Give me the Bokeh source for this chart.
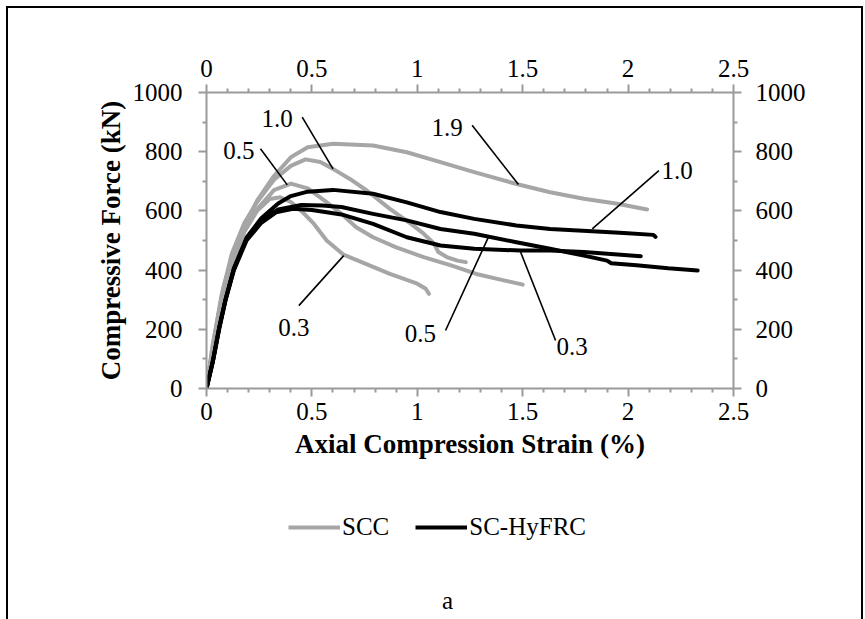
from bokeh.plotting import figure
from bokeh.layouts import column
from bokeh.models import (LinearAxis, Range1d, Legend, LegendItem, Label,
                          FixedTicker)
from bokeh.core.properties import value
from bokeh.embed import file_html
from bokeh.resources import INLINE

# ---------------- data ----------------
x_ticks = [0, 0.5, 1.0, 1.5, 2.0, 2.5]
x_tick_labels = ["0", "0.5", "1", "1.5", "2", "2.5"]
x_minor = [0.1, 0.2, 0.3, 0.4, 0.6, 0.7, 0.8, 0.9, 1.1, 1.2, 1.3, 1.4,
           1.6, 1.7, 1.8, 1.9, 2.1, 2.2, 2.3, 2.4]
y_ticks = [0, 200, 400, 600, 800, 1000]
y_minor = [100, 300, 500, 700, 900]

# SCC (gray)
scc_03_strain = [0, 0.03, 0.07, 0.12, 0.18, 0.24, 0.30, 0.35, 0.40, 0.45, 0.51,
                 0.57, 0.65, 0.75, 0.87, 1.00, 1.04, 1.055]
scc_03_force = [0, 130, 280, 420, 530, 600, 640, 646, 630, 600, 556,
                500, 452, 423, 387, 354, 337, 320]

scc_05_strain = [0, 0.03, 0.07, 0.12, 0.18, 0.24, 0.32, 0.40, 0.48, 0.56, 0.64,
                 0.71, 0.79, 0.90, 1.03, 1.16, 1.28, 1.40, 1.50]
scc_05_force = [0, 140, 300, 440, 540, 605, 670, 692, 676, 635, 590,
                545, 511, 477, 444, 416, 387, 367, 351]

scc_10_strain = [0, 0.03, 0.07, 0.12, 0.18, 0.24, 0.32, 0.40, 0.47, 0.54, 0.60,
                 0.68, 0.76, 0.87, 0.97, 1.03, 1.08, 1.10, 1.14, 1.19, 1.23]
scc_10_force = [0, 145, 310, 455, 560, 630, 705, 752, 774, 765, 742,
                708, 669, 607, 556, 523, 489, 461, 444, 432, 427]

scc_19_strain = [0, 0.03, 0.08, 0.12, 0.16, 0.24, 0.32, 0.40, 0.48, 0.60, 0.79,
                 0.95, 1.11, 1.27, 1.48, 1.63, 1.79, 1.95, 2.09]
scc_19_force = [0, 150, 340, 440, 520, 635, 718, 781, 815, 827, 821,
                798, 765, 731, 689, 663, 641, 624, 605]

# SC-HyFRC (black)
hy_03_strain = [0, 0.03, 0.06, 0.09, 0.13, 0.19, 0.26, 0.33, 0.41, 0.50, 0.64,
                0.79, 0.95, 1.11, 1.27, 1.49, 1.63, 1.79, 1.95, 2.06]
hy_03_force = [0, 90, 200, 297, 400, 500, 560, 595, 607, 603, 588,
               556, 511, 483, 472, 466, 466, 461, 453, 447]

hy_05_strain = [0, 0.03, 0.06, 0.09, 0.13, 0.19, 0.26, 0.34, 0.45, 0.55, 0.64,
                0.79, 0.95, 1.11, 1.27, 1.47, 1.63, 1.79, 1.90, 1.92, 2.04,
                2.19, 2.33]
hy_05_force = [0, 92, 205, 300, 405, 505, 568, 605, 620, 618, 613,
               590, 568, 539, 523, 494, 472, 449, 432, 423, 416, 406, 399]

hy_10_strain = [0, 0.03, 0.06, 0.09, 0.13, 0.19, 0.26, 0.34, 0.40, 0.48, 0.60,
                0.79, 0.95, 1.11, 1.27, 1.47, 1.63, 1.83, 1.98, 2.12, 2.13]
hy_10_force = [0, 92, 205, 300, 405, 510, 575, 625, 650, 665, 671,
               658, 629, 596, 573, 551, 539, 531, 525, 519, 512]

# annotation labels
ann_text = ["1.0", "0.5", "1.9", "0.3", "1.0", "0.5", "0.3"]
ann_x = [0.335, 0.153, 1.142, 0.414, 2.233, 1.015, 1.735]
ann_y = [911, 804, 883, 205, 736, 185, 142]
lead_x0 = [0.454, 0.256, 1.26, 0.438, 2.146, 1.134, 1.656]
lead_y0 = [917, 810, 889, 280, 736, 196, 162]
lead_x1 = [0.60, 0.383, 1.48, 0.651, 1.83, 1.339, 1.49]
lead_y1 = [742, 688, 689, 449, 539, 514, 461]

series_names = ["SCC", "SC-HyFRC"]
caption = "a"

# ---------------- figure ----------------
FONT = "Liberation Serif"
GRAY = "#a6a6a6"
AXIS_GRAY = "#9a9a9a"
FS = "25px"
TFS = "27px"

W = 853
H1 = 480
H2 = 131
FRAME_W = 527

p = figure(width=W, height=H1, output_backend="svg", toolbar_location=None,
           x_range=Range1d(0, 2.5), y_range=Range1d(0, 1000),
           x_axis_location=None, y_axis_location=None,
           min_border_left=198, min_border_right=128,
           min_border_top=84, min_border_bottom=100)
p.grid.visible = False
p.outline_line_color = None
p.background_fill_color = "white"
p.border_fill_color = "white"


def style_axis(ax, ticks, minor, overrides=None):
    ax.ticker = FixedTicker(ticks=ticks, minor_ticks=minor)
    ax.axis_line_color = AXIS_GRAY
    ax.axis_line_width = 2
    ax.major_tick_line_color = AXIS_GRAY
    ax.minor_tick_line_color = AXIS_GRAY
    ax.major_tick_line_width = 2
    ax.minor_tick_line_width = 2
    ax.major_tick_out = 8
    ax.major_tick_in = 0
    ax.minor_tick_out = 4
    ax.minor_tick_in = 0
    ax.major_label_text_font = FONT
    ax.major_label_text_font_size = FS
    ax.major_label_text_color = "black"
    ax.axis_label_text_font = FONT
    ax.axis_label_text_font_size = TFS
    ax.axis_label_text_font_style = "bold"
    ax.axis_label_text_color = "black"
    if overrides:
        ax.major_label_overrides = overrides


xo = {float(t): s for t, s in zip(x_ticks, x_tick_labels)}

ax_b = LinearAxis(axis_label="Axial Compression Strain (%)")
style_axis(ax_b, x_ticks, x_minor, xo)
ax_b.major_label_standoff = 6
ax_b.axis_label_standoff = 6
p.add_layout(ax_b, "below")

ax_t = LinearAxis()
style_axis(ax_t, x_ticks, x_minor, xo)
ax_t.major_label_standoff = 8
p.add_layout(ax_t, "above")

ax_l = LinearAxis(axis_label="Compressive Force (kN)")
style_axis(ax_l, y_ticks, y_minor)
ax_l.major_label_standoff = 16
ax_l.axis_label_standoff = 4
p.add_layout(ax_l, "left")

ax_r = LinearAxis()
style_axis(ax_r, y_ticks, y_minor)
ax_r.major_label_standoff = 14
p.add_layout(ax_r, "right")

# curves
for xs, ys in [(scc_03_strain, scc_03_force), (scc_05_strain, scc_05_force),
               (scc_10_strain, scc_10_force), (scc_19_strain, scc_19_force)]:
    p.line(xs, ys, line_color=GRAY, line_width=4, line_join="round",
           line_cap="round")

for xs, ys in [(hy_03_strain, hy_03_force), (hy_05_strain, hy_05_force),
               (hy_10_strain, hy_10_force)]:
    p.line(xs, ys, line_color="black", line_width=4, line_join="round",
           line_cap="round")

# leader lines + labels
p.segment(x0=lead_x0, y0=lead_y0, x1=lead_x1, y1=lead_y1,
          line_color="black", line_width=1.6)
p.text(x=ann_x, y=ann_y, text=ann_text, text_font=value(FONT),
       text_font_size=FS, text_align="center", text_baseline="middle",
       text_color="black")

# ---------------- legend + caption strip ----------------
# (column aligns this strip's frame with the chart frame above)
q = figure(width=W, height=H2, output_backend="svg", toolbar_location=None,
           x_range=Range1d(0, FRAME_W), y_range=Range1d(0, H2),
           x_axis_location=None, y_axis_location=None,
           min_border_left=198, min_border_right=128,
           min_border_top=0, min_border_bottom=0)
q.grid.visible = False
q.outline_line_color = None
q.background_fill_color = "white"
q.border_fill_color = "white"

# legend proxies (kept outside the visible range)
g_leg = q.line([-20, -10], [-20, -10], line_color=GRAY, line_width=4)
b_leg = q.line([-20, -10], [-20, -10], line_color="black", line_width=4)
legend = Legend(items=[LegendItem(label=series_names[0], renderers=[g_leg]),
                       LegendItem(label=series_names[1], renderers=[b_leg])],
                orientation="horizontal", location=(82, 78),
                glyph_width=52, glyph_height=28, label_standoff=2,
                spacing=26, padding=0, margin=0,
                label_text_font=FONT, label_text_font_size=FS,
                label_text_color="black", label_height=28,
                border_line_color=None, background_fill_alpha=0)
q.add_layout(legend, "center")

q.add_layout(Label(x=241, y=19, text=caption, text_font=FONT,
                   text_font_size=FS, text_align="center",
                   text_baseline="middle", text_color="black"))

layout = column(p, q, spacing=0)
layout.margin = (6, 0, 0, 6)
layout.styles = {"border-left": "2px solid black",
                 "border-top": "2px solid black",
                 "border-right": "2px solid black"}

open("out.html", "w").write(file_html(layout, INLINE))
